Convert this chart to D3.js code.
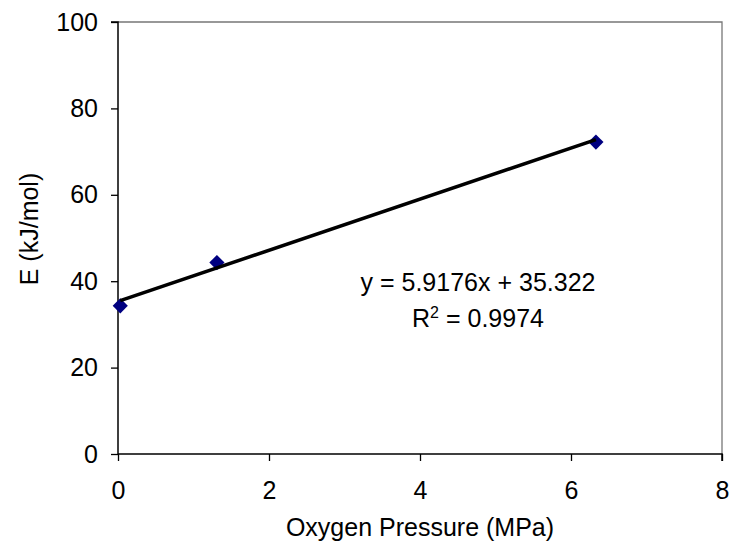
<!DOCTYPE html>
<html><head><meta charset="utf-8">
<script src="https://cdn.jsdelivr.net/npm/d3@7"></script>
<style>body{margin:0;background:#fff}svg text{font-family:"Liberation Sans",Arial,sans-serif;fill:#000}</style>
</head><body><svg id="c" width="729" height="541"></svg>
<script>
const pressure = [0.03, 1.31, 6.33];
const energy = [34.3, 44.3, 72.2];
const xTicks = [0, 2, 4, 6, 8];
const yTicks = [0, 20, 40, 60, 80, 100];
const slope = 5.9176, intercept = 35.322;
const eqText = "y = 5.9176x + 35.322";
const r2Value = "0.9974";

const svg = d3.select("#c");
const L = 118, R = 722, T = 22, B = 454;
const x = d3.scaleLinear().domain([0, 8]).range([L, R]);
const y = d3.scaleLinear().domain([0, 100]).range([B, T]);

// frame (top/right)
svg.append("path").attr("d", `M${L},${T}H${R}V${B}`).attr("fill", "none").attr("stroke", "#777").attr("stroke-width", 1.3);

const fs = "25px";
const xa = svg.append("g").attr("transform", `translate(0,${B})`)
  .call(d3.axisBottom(x).tickValues(xTicks).tickSize(7).tickPadding(20).tickFormat(d3.format("d")));
const ya = svg.append("g").attr("transform", `translate(${L},0)`)
  .call(d3.axisLeft(y).tickValues(yTicks).tickSize(7).tickPadding(13).tickFormat(d3.format("d")));
[xa, ya].forEach(a => {
  a.select(".domain").attr("stroke", "#000").attr("stroke-width", 1.5);
  a.selectAll(".tick line").attr("stroke", "#000").attr("stroke-width", 1.3);
  a.selectAll("text").attr("font-size", fs).attr("font-family", "Liberation Sans, Arial, sans-serif").attr("fill", "#000");
});
ya.select(".domain").attr("d", `M-7,${T}H0V${B}`);
xa.select(".domain").attr("d", `M${L},0H${R}V7`);
xa.selectAll(".tick text").attr("dy", "0.71em");

// markers
const pts = pressure.map((p, i) => [p, energy[i]]);
svg.append("g").selectAll("path").data(pts).join("path")
  .attr("d", d3.symbol(d3.symbolSquare, 115))
  .attr("transform", d => `translate(${x(d[0])},${y(d[1])}) rotate(45)`)
  .attr("fill", "#000080");

// trendline
const x0 = d3.min(pressure), x1 = d3.max(pressure);
svg.append("line")
  .attr("x1", x(x0)).attr("y1", y(slope * x0 + intercept))
  .attr("x2", x(x1)).attr("y2", y(slope * x1 + intercept))
  .attr("stroke", "#000").attr("stroke-width", 3.6);

// equation
svg.append("text").attr("x", 478).attr("y", 291).attr("text-anchor", "middle").attr("font-size", fs).text(eqText);
const r2 = svg.append("text").attr("x", 478).attr("y", 327).attr("text-anchor", "middle").attr("font-size", fs);
r2.append("tspan").text("R");
r2.append("tspan").attr("font-size", "16px").attr("dy", "-9").text("2");
r2.append("tspan").attr("dy", "9").text(" = " + r2Value);

// axis titles
svg.append("text").attr("x", 420).attr("y", 536).attr("text-anchor", "middle").attr("font-size", fs).text("Oxygen Pressure (MPa)");
svg.append("text").attr("transform", "translate(38,229) rotate(-90)").attr("text-anchor", "middle").attr("font-size", fs).text("E (kJ/mol)");
</script></body></html>
